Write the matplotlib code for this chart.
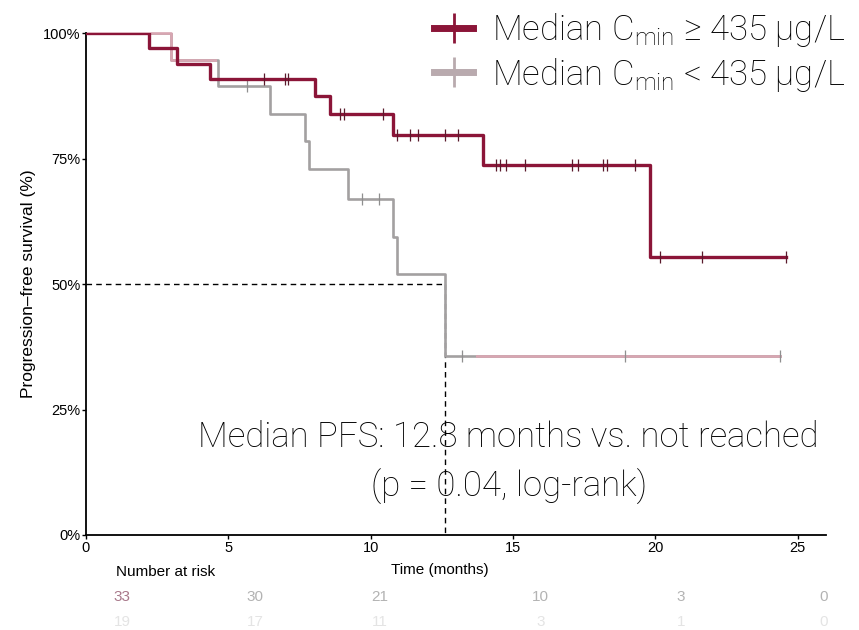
import matplotlib
matplotlib.use("Agg")
import matplotlib.pyplot as plt
import numpy as np
from matplotlib import font_manager
from matplotlib.lines import Line2D
from matplotlib.patches import Rectangle

# Kaplan-Meier steps (months, % surviving)
high_times = [0, 2.2, 3.2, 4.35, 8.05, 8.58, 10.8, 13.95, 19.82]
high_surv = [100, 97.0, 93.9, 90.9, 87.4, 83.9, 79.7, 73.8, 55.3]
high_end = 24.6
high_censor = [6.25, 7.0, 7.1, 8.93, 9.05, 10.45, 10.93, 11.4, 11.67, 12.62, 13.08,
               14.4, 14.55, 14.75, 15.43, 17.08, 17.3, 18.17, 18.3, 19.3,
               20.15, 21.65, 24.6]

low_times = [0, 3.0, 4.65, 6.45, 7.7, 7.82, 9.2, 10.8, 10.93, 12.62]
low_surv = [100, 94.7, 89.5, 83.9, 78.5, 72.9, 67.0, 59.4, 52.0, 35.6]
low_end = 24.4
low_censor = [5.66, 9.7, 10.3, 13.2, 18.95, 24.4]

x_ticks = [0, 5, 10, 15, 20, 25]
y_ticks = [0, 25, 50, 75, 100]
y_ticklabels = ["0%", "25%", "50%", "75%", "100%"]

risk_high = [33, 30, 21, 10, 3, 0]
risk_low = [19, 17, 11, 3, 1, 0]
risk_x = [1.27, 5.94, 10.33, 15.96, 20.9, 25.9]

labels = ["Median C$_{\\mathregular{min}}$ \u2265 435 \u00b5g/L",
          "Median C$_{\\mathregular{min}}$ < 435 \u00b5g/L"]

RED = "#8b1538"
GRAY = "#a3a0a1"
PINK = "#d8a6b2"

names = {f.name for f in font_manager.fontManager.ttflist}
big_font = ["Roboto", "DejaVu Sans"] if "Roboto" in names else ["Liberation Sans", "DejaVu Sans"]
plt.rcParams["font.family"] = ["Liberation Sans", "DejaVu Sans"]
plt.rcParams["mathtext.default"] = "regular"


def step_xy(times, surv, end):
    xs = list(times) + [end]
    ys = list(surv) + [surv[-1]]
    return np.array(xs), np.array(ys)


def censor_y(times, surv, cens):
    idx = np.searchsorted(times, cens, side="right") - 1
    return np.array(surv)[idx]


fig = plt.figure(figsize=(8.59, 6.3), dpi=100)
ax = fig.add_axes([0.1001, 0.1508, 0.8615, 0.7968])

# low group: grey with pinkish ends (as in the source image)
lx, ly = step_xy(low_times, low_surv, low_end)
ax.step(lx, ly, where="post", color=GRAY, lw=1.9, zorder=2)
for x0, x1 in [(-1, 4.6), (13.7, 30)]:
    ln, = ax.step(lx, ly, where="post", color=PINK, lw=1.9, zorder=2.1)
    ln.set_clip_path(Rectangle((x0, -10), x1 - x0, 130, transform=ax.transData))
ax.plot(low_censor, censor_y(low_times, low_surv, low_censor), ls="none",
        marker="|", ms=9, mew=0.9, color="#8f8f8f", zorder=3)

hx, hy = step_xy(high_times, high_surv, high_end)
ax.step(hx, hy, where="post", color=RED, lw=2.4, zorder=4)
ax.plot(high_censor, censor_y(high_times, high_surv, high_censor), ls="none",
        marker="|", ms=9, mew=0.9, color="#5a1a2c", zorder=5)

# median line for the low group
med = low_times[int(np.argmax(np.array(low_surv) <= 50))]
ax.plot([0, med], [50, 50], ls=(0, (4, 3)), color="black", lw=1.0, zorder=1)
ax.plot([med, med], [50, 0], ls=(0, (4, 3)), color="black", lw=1.0, zorder=1)

ax.set_xlim(0, 26)
ax.set_ylim(0, 100)
ax.set_xticks(x_ticks)
ax.set_yticks(y_ticks)
ax.set_yticklabels(y_ticklabels)
ax.tick_params(axis="both", direction="out", length=3, width=1, labelsize=10.5, pad=1)
for s in ["top", "right"]:
    ax.spines[s].set_visible(False)
for s in ["left", "bottom"]:
    ax.spines[s].set_linewidth(1.3)
ax.spines["left"].set_bounds(0, 100)
ax.set_ylabel("Progression\u2013free survival (%)", fontsize=12.5, labelpad=5)
ax.patch.set_alpha(0)

ax.text(14.85, 19.5, "Median PFS: 12.8 months vs. not reached", ha="center",
        va="center", color="black", family=big_font, weight="light", fontsize=25)
ax.text(14.85, 9.5, "(p = 0.04, log-rank)", ha="center", va="center",
        color="black", family=big_font, weight="light", fontsize=25)

handles = [
    Line2D([], [], color=RED, lw=5, marker="|", ms=22, mew=2),
    Line2D([], [], color="#b9aaae", lw=5, marker="|", ms=22, mew=2),
]
leg = fig.legend(handles, labels, loc="upper right", bbox_to_anchor=(1.008, 1.015),
                 frameon=False, handlelength=1.1, handletextpad=0.55,
                 labelspacing=0.18, borderaxespad=0.2,
                 prop={"family": big_font, "weight": "light", "size": 25})
for t in leg.get_texts():
    t.set_color("black")

# x label and number at risk table
fig.text(440 / 859, 1 - 570 / 630, "Time (months)", ha="center", va="center", fontsize=11)
fig.text(166 / 859, 1 - 572 / 630, "Number at risk", ha="center", va="center", fontsize=11)
for i, (x, a, b) in enumerate(zip(risk_x, risk_high, risk_low)):
    col = "#a8788a" if i == 0 else "#b3b3b3"
    ax.text(x, -12.4, str(a), ha="center", va="center", fontsize=11, color=col,
            transform=ax.transData, clip_on=False)
    ax.text(x, -17.4, str(b), ha="center", va="center", fontsize=11, color="#e4e4e4",
            transform=ax.transData, clip_on=False)

fig.savefig("out.png", dpi=100)
